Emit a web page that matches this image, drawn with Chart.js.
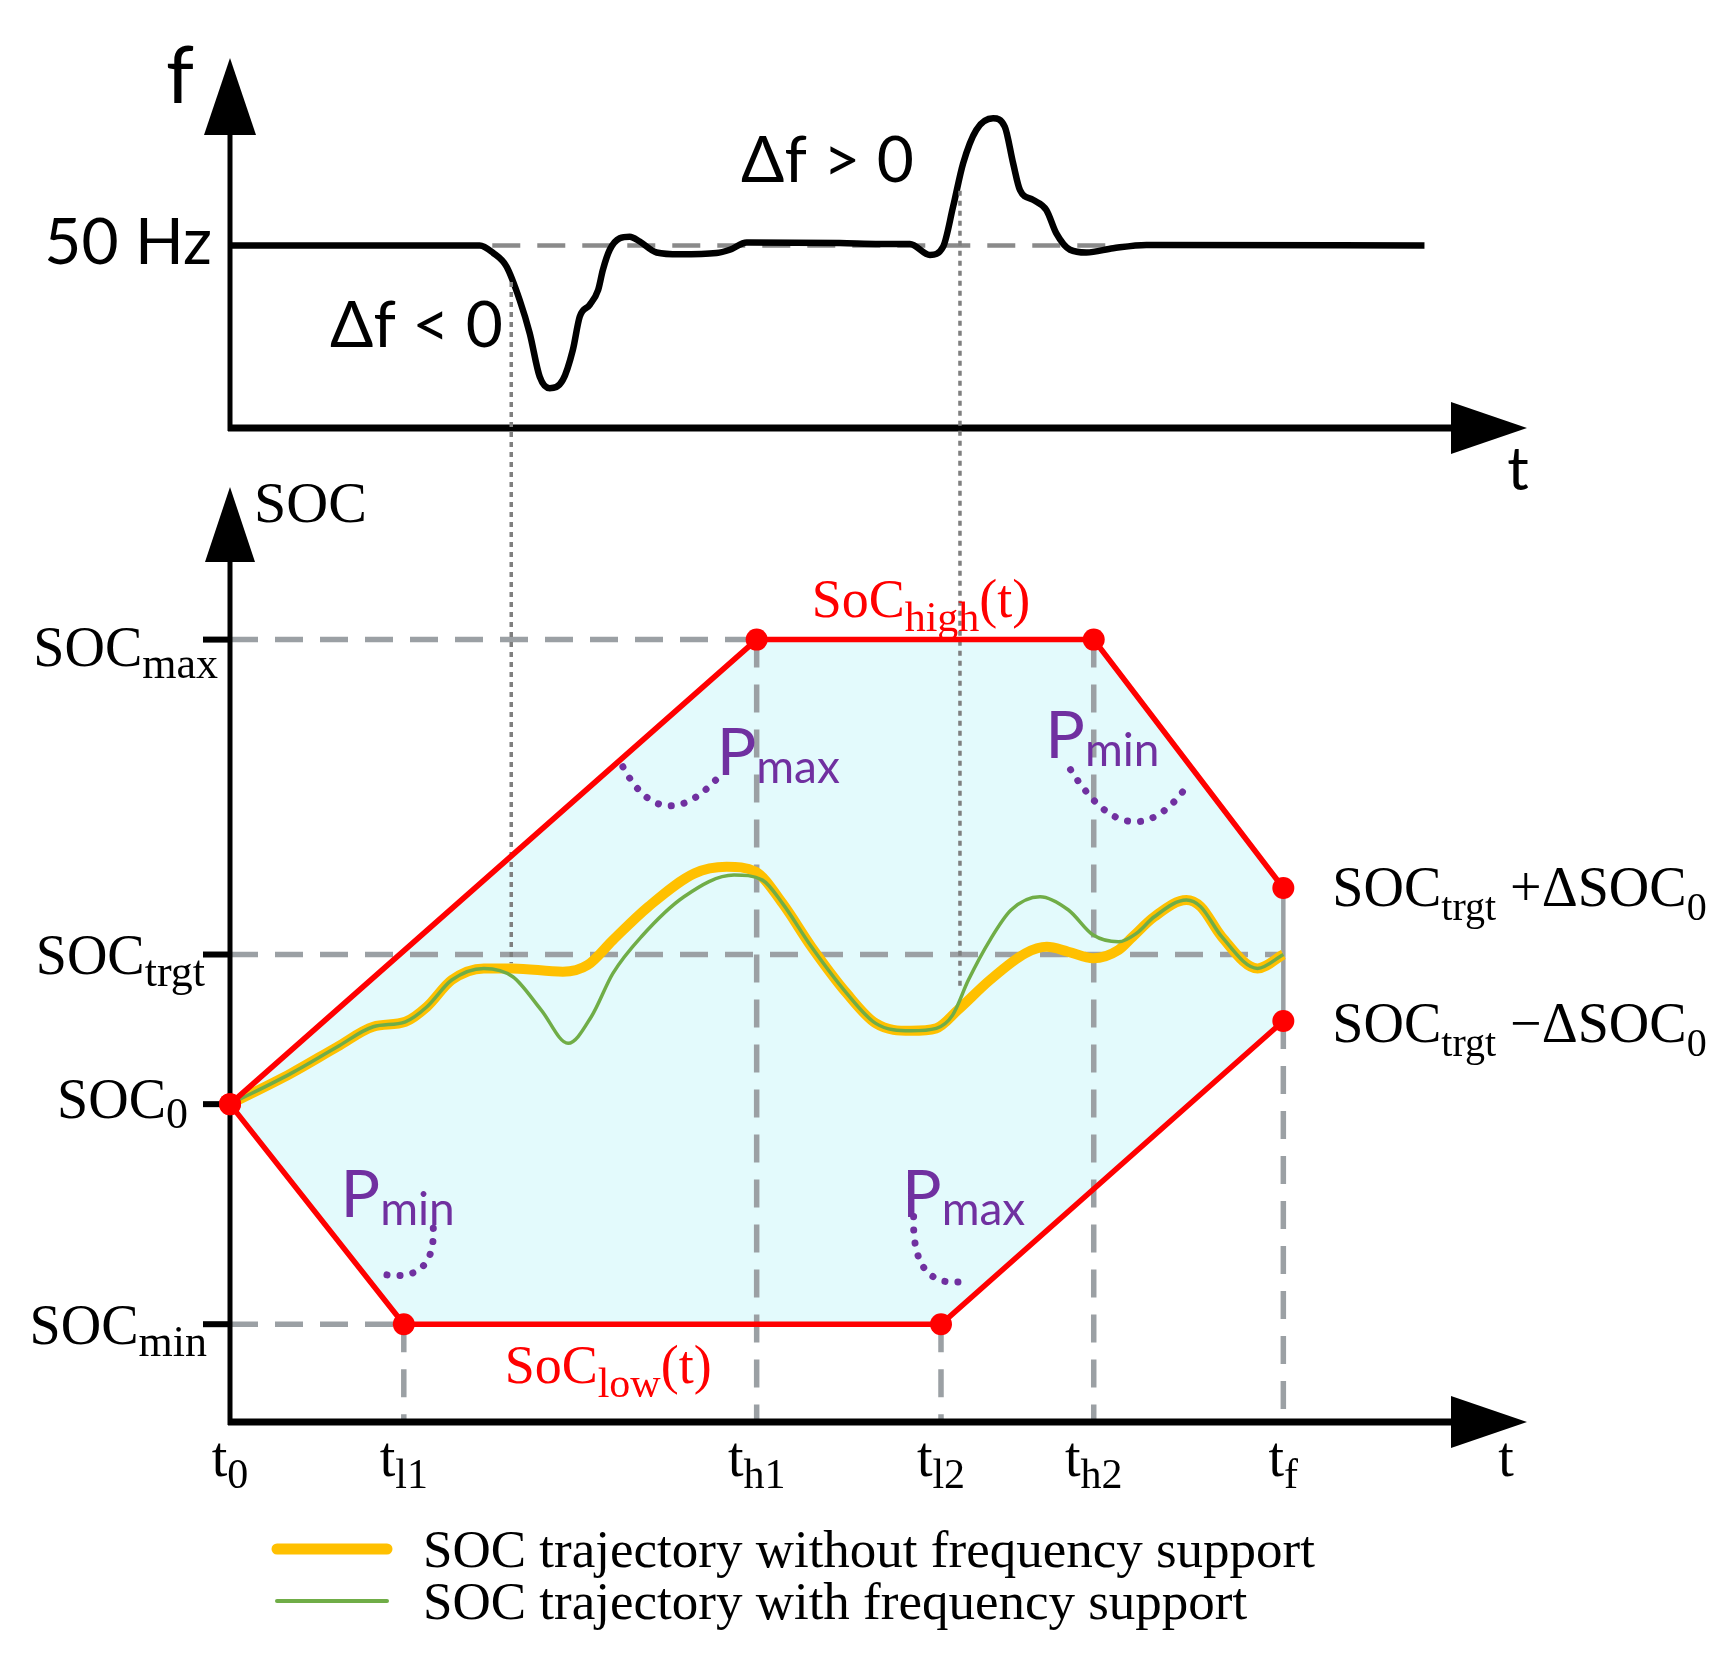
<!DOCTYPE html>
<html>
<head>
<meta charset="utf-8">
<script src="https://cdn.jsdelivr.net/npm/chart.js@4.4.1/dist/chart.umd.min.js"></script>
<style>
  html, body { margin: 0; padding: 0; background: #fff; }
  #wrap { position: relative; width: 1735px; height: 1664px; }
  #wrap canvas { position: absolute; left: 0; top: 0; }
</style>
</head>
<body>
<div id="wrap">
  <canvas id="freqChart" width="1735" height="1664"></canvas>
  <canvas id="socChart" width="1735" height="1664"></canvas>
</div>
<script>
// ---- data -----------------------------------------------------------------
// shared time axis (arbitrary units, t0 = 0, tf = 100)
const timeTicks = [0, 16.5, 50, 67.5, 82, 100];
const timeSubs  = ['0', 'l1', 'h1', 'l2', 'h2', 'f'];

// grid frequency (Hz)
const freqT  = [0, 23.7, 25.0, 26.25, 27.5, 28.45, 29.4, 30.35, 31.6, 32.55, 33.2, 34.15, 34.95, 35.4,
                36.05, 37.0, 37.95, 38.9, 40.5, 42.7, 46.2, 47.45, 49.05, 57.9, 61.7, 64.55, 66.45,
                67.7, 68.65, 69.6, 70.85, 72.45, 73.55, 74.35, 75.0, 76.25, 77.5, 78.45, 79.75, 81.3,
                83.85, 87.0, 113.4];
const freqHz = [50, 50, 49.975, 49.931, 49.821, 49.712, 49.569, 49.531, 49.558, 49.657, 49.766, 49.805,
                49.854, 49.920, 49.986, 50.024, 50.029, 50.013, 49.977, 49.971, 49.975, 49.986, 50.010,
                50.008, 50.005, 50.005, 49.969, 49.996, 50.128, 50.270, 50.380, 50.418, 50.391, 50.270,
                50.182, 50.150, 50.117, 50.040, 49.986, 49.977, 49.991, 50.002, 50.0];

// SOC levels (%)
const levelValues = [80, 47.8, 32.5, 10];
const levelSubs   = ['max', 'trgt', '0', 'min'];

// SOC envelope
const highT   = [0, 50, 82, 100];
const highSoc = [32.5, 80, 80, 54.6];
const lowT    = [0, 16.5, 67.5, 100];
const lowSoc  = [32.5, 10, 10, 41.0];

// SOC trajectory without frequency support
const noSupT   = [0, 5.8, 10.2, 13.6, 16.65, 18.7, 21.05, 24.1, 26.85, 31.6, 33.95, 36.35, 39.7, 44.1,
                  47.15, 49.9, 52.45, 55.2, 58.55, 61.3, 64.65, 67.05, 69.1, 72.15, 75.5, 77.55, 79.6,
                  81.95, 84.35, 85.7, 87.75, 90.8, 92.15, 94.15, 97.55, 100];
const noSupSoc = [32.5, 35.65, 38.37, 40.41, 40.92, 42.46, 45.19, 46.38, 46.38, 46.04, 46.72, 49.28,
                  52.68, 56.10, 56.77, 56.26, 53.03, 48.59, 43.83, 40.76, 40.00, 40.25, 42.12, 45.19,
                  47.92, 48.59, 48.08, 47.41, 48.26, 49.62, 51.66, 53.37, 52.69, 49.62, 46.38, 47.8];

// SOC trajectory with frequency support
const withSupT   = [0, 5.8, 10.2, 13.6, 16.65, 18.7, 21.05, 24.1, 26.85, 29.55, 32.1, 34.3, 36.35, 39.05,
                    43.1, 47.85, 50.55, 52.45, 55.2, 58.55, 61.3, 64.65, 67.05, 68.6, 70.1, 72.15, 74.15,
                    76.9, 79.6, 81.95, 84.35, 86.05, 87.75, 90.8, 92.15, 94.15, 97.55, 100];
const withSupSoc = [32.5, 35.65, 38.37, 40.41, 40.92, 42.46, 45.19, 46.38, 45.53, 42.12, 38.72, 41.44,
                    45.87, 49.62, 53.71, 55.93, 55.41, 53.03, 48.59, 43.83, 40.76, 40.00, 40.25, 41.6,
                    45.19, 49.28, 52.35, 53.71, 52.35, 49.79, 49.10, 49.96, 51.66, 53.37, 52.69, 49.62,
                    46.38, 47.8];

// dotted links from the frequency events down to the SOC trajectory
const linkT   = [26.7, 69.3];
const linkHz  = [49.88, 50.18];
const linkSoc = [46.9, 44.2];

// ---- helpers ----------------------------------------------------------------
const SERIF = '"Liberation Serif", "Times New Roman", serif';
const SANS = 'Lato, "Open Sans", sans-serif';
const GRAY_DASH = '#9ba0a4';
const PURPLE = '#7030a0';

function pts(xs, ys) { return xs.map((x, i) => ({ x: x, y: ys[i] })); }

function drawRich(ctx, parts, x, y, align) {
    // parts: [text, font, dy]
    let w = 0;
    parts.forEach(p => { ctx.font = p[1]; w += ctx.measureText(p[0]).width; });
    let cx = align === 'right' ? x - w : (align === 'center' ? x - w / 2 : x);
    ctx.textAlign = 'left';
    ctx.textBaseline = 'alphabetic';
    parts.forEach(p => {
        ctx.font = p[1];
        ctx.fillText(p[0], cx, y + (p[2] || 0));
        cx += ctx.measureText(p[0]).width;
    });
}

function arrow(ctx, x0, y0, x1, y1, headLen, headHalf, width) {
    const a = Math.atan2(y1 - y0, x1 - x0);
    const bx = x1 - headLen * Math.cos(a), by = y1 - headLen * Math.sin(a);
    ctx.lineWidth = width;
    ctx.beginPath(); ctx.moveTo(x0, y0); ctx.lineTo(bx, by); ctx.stroke();
    ctx.beginPath();
    ctx.moveTo(x1, y1);
    ctx.lineTo(bx - headHalf * Math.sin(a), by + headHalf * Math.cos(a));
    ctx.lineTo(bx + headHalf * Math.sin(a), by - headHalf * Math.cos(a));
    ctx.closePath(); ctx.fill();
}

function line(ctx, x0, y0, x1, y1) {
    ctx.beginPath(); ctx.moveTo(x0, y0); ctx.lineTo(x1, y1); ctx.stroke();
}

const ARROW_TIP_X = 1527;

// ---- top panel: frequency -------------------------------------------------
const freqDecor = {
    id: 'freqDecor',
    beforeDatasetsDraw(chart) {
        const { ctx, scales: { x, y } } = chart;
        ctx.save();
        ctx.strokeStyle = '#8a8a8a';
        ctx.lineWidth = 4.5;
        ctx.setLineDash([28, 17]);
        line(ctx, x.getPixelForValue(24.9), y.getPixelForValue(50), x.getPixelForValue(83.2), y.getPixelForValue(50));
        ctx.restore();
    },
    afterDraw(chart) {
        const { ctx, chartArea: a } = chart;
        ctx.save();
        ctx.fillStyle = '#000';
        ctx.strokeStyle = '#000';
        arrow(ctx, a.left, a.bottom + 3, a.left, 58, 77, 26, 5);
        arrow(ctx, a.left - 2, a.bottom, ARROW_TIP_X, a.bottom, 76, 26, 7);

        ctx.font = '80px ' + SANS;
        ctx.textAlign = 'left';
        ctx.fillText('f', 166, 103);
        drawRich(ctx, [['50 Hz', '64px ' + SANS]], a.left - 18, chart.scales.y.getPixelForValue(50) + 18, 'right');
        drawRich(ctx, [['\u0394f < 0', '64px ' + SANS]], 330, 347, 'left');
        drawRich(ctx, [['\u0394f > 0', '64px ' + SANS]], 741, 182, 'left');
        drawRich(ctx, [['t', '60px ' + SANS]], 1518, a.bottom + 62, 'center');
        ctx.restore();
    }
};

const freqChart = new Chart(document.getElementById('freqChart'), {
    type: 'line',
    data: {
        datasets: [{
            label: 'f',
            data: pts(freqT, freqHz),
            borderColor: '#000',
            borderWidth: 6.5,
            pointRadius: 0,
            cubicInterpolationMode: 'monotone',
            fill: false
        }]
    },
    options: {
        responsive: false,
        animation: false,
        devicePixelRatio: 1,
        events: [],
        layout: { padding: { left: 230, right: 241, top: 63, bottom: 1236 } },
        scales: {
            x: { type: 'linear', min: 0, max: 120, display: false },
            y: { type: 'linear', min: 49.4, max: 50.6, display: false }
        },
        plugins: { legend: { display: false }, tooltip: { enabled: false } }
    },
    plugins: [freqDecor]
});

// ---- bottom panel: SOC ----------------------------------------------------
// annotation arcs for the power limits: [label sub, textT, textSoc, arc start, control, end]
const powerNotes = [
    ['max', 46.2, 66.2, [37.3, 67.0], [41.2, 59.2], [46.9, 66.6]],
    ['min', 77.4, 67.9, [79.8, 66.7], [85.4, 57.1], [90.7, 64.8]],
    ['min', 10.5, 21.0, [19.3, 19.8], [19.5, 13.7], [13.7, 15.3]],
    ['max', 63.8, 21.0, [64.9, 21.0], [64.7, 13.5], [69.7, 14.4]]
];

const socDecor = {
    id: 'socDecor',
    beforeDatasetsDraw(chart) {
        const { ctx, chartArea: a, scales: { x, y } } = chart;
        const fy = freqChart.scales.y;
        ctx.save();

        // dashed guide lines
        ctx.strokeStyle = GRAY_DASH;
        ctx.lineWidth = 5.5;
        ctx.setLineDash([28, 17]);
        const hEnds = [highT[1], lowT[lowT.length - 1], null, lowT[1]];
        levelValues.forEach((v, i) => {
            if (hEnds[i] === null) return;
            line(ctx, a.left, y.getPixelForValue(v), x.getPixelForValue(hEnds[i]), y.getPixelForValue(v));
        });
        timeTicks.forEach(t => {
            if (t === 0) return;
            let li = lowT.indexOf(t), v;
            if (li >= 0) v = lowSoc[li]; else v = highSoc[highT.indexOf(t)];
            line(ctx, x.getPixelForValue(t), y.getPixelForValue(v), x.getPixelForValue(t), a.bottom);
        });
        ctx.setLineDash([]);
        ctx.lineWidth = 4.5;
        const xf = x.getPixelForValue(100);
        line(ctx, xf, y.getPixelForValue(highSoc[3]), xf, y.getPixelForValue(lowSoc[3]));

        // dotted links from frequency panel
        ctx.strokeStyle = '#7f7f7f';
        ctx.lineWidth = 3.5;
        ctx.setLineDash([5, 5]);
        linkT.forEach((t, i) => {
            line(ctx, x.getPixelForValue(t), fy.getPixelForValue(linkHz[i]), x.getPixelForValue(t), y.getPixelForValue(linkSoc[i]));
        });
        ctx.setLineDash([]);

        // axes and level ticks
        ctx.fillStyle = '#000';
        ctx.strokeStyle = '#000';
        arrow(ctx, a.left, a.bottom + 3, a.left, 487, 75, 25, 5);
        arrow(ctx, a.left - 2, a.bottom, ARROW_TIP_X, a.bottom, 76, 26, 7);
        ctx.lineWidth = 6;
        levelValues.forEach(v => line(ctx, a.left - 27, y.getPixelForValue(v), a.left, y.getPixelForValue(v)));
        ctx.restore();
    },
    afterDraw(chart) {
        const { ctx, chartArea: a, scales: { x, y } } = chart;
        ctx.save();

        // purple power-limit notes
        ctx.fillStyle = PURPLE;
        ctx.strokeStyle = PURPLE;
        powerNotes.forEach(n => {
            drawRich(ctx, [['P', '66px ' + SANS], [n[0], '46px ' + SANS, 8]], x.getPixelForValue(n[1]), y.getPixelForValue(n[2]), 'left');
            ctx.lineWidth = 7;
            ctx.lineCap = 'round';
            ctx.setLineDash([0.1, 13]);
            ctx.beginPath();
            ctx.moveTo(x.getPixelForValue(n[3][0]), y.getPixelForValue(n[3][1]));
            ctx.quadraticCurveTo(x.getPixelForValue(n[4][0]), y.getPixelForValue(n[4][1]),
                                 x.getPixelForValue(n[5][0]), y.getPixelForValue(n[5][1]));
            ctx.stroke();
            ctx.setLineDash([]);
        });

        // axis labels
        ctx.fillStyle = '#000';
        drawRich(ctx, [['SOC', '58px ' + SERIF]], a.left + 24, 522, 'left');
        const levelDy = [26, 19, 14, 20];
        const levelRight = [12, 25, 42, 23];
        const levelSubDy = [12, 12, 10, 12];
        levelValues.forEach((v, i) => {
            drawRich(ctx, [['SOC', '56px ' + SERIF], [levelSubs[i], '44px ' + SERIF, levelSubDy[i]]],
                     a.left - levelRight[i], y.getPixelForValue(v) + levelDy[i], 'right');
        });
        timeTicks.forEach((t, i) => {
            drawRich(ctx, [['t', '56px ' + SERIF], [timeSubs[i], '42px ' + SERIF, 12]],
                     x.getPixelForValue(t), a.bottom + 54, 'center');
        });
        drawRich(ctx, [['t', '56px ' + SERIF]], 1506, a.bottom + 54, 'center');

        const xf = x.getPixelForValue(100);
        drawRich(ctx, [['SOC', '56px ' + SERIF], ['trgt', '40px ' + SERIF, 14], [' +\u0394SOC', '56px ' + SERIF], ['0', '40px ' + SERIF, 14]],
                 xf + 49, y.getPixelForValue(highSoc[3]) + 18, 'left');
        drawRich(ctx, [['SOC', '56px ' + SERIF], ['trgt', '40px ' + SERIF, 14], [' \u2212\u0394SOC', '56px ' + SERIF], ['0', '40px ' + SERIF, 14]],
                 xf + 49, y.getPixelForValue(lowSoc[3]) + 21, 'left');

        // envelope names
        ctx.fillStyle = '#ff0000';
        drawRich(ctx, [['SoC', '54px ' + SERIF], ['high', '42px ' + SERIF, 14], ['(t)', '54px ' + SERIF]],
                 x.getPixelForValue(65.6), y.getPixelForValue(80) - 23, 'center');
        drawRich(ctx, [['SoC', '54px ' + SERIF], ['low', '42px ' + SERIF, 14], ['(t)', '54px ' + SERIF]],
                 x.getPixelForValue(35.9), y.getPixelForValue(10) + 59, 'center');

        // legend
        const legendItems = [chart.data.datasets[2], chart.data.datasets[3]];
        const legendY = [1549, 1601];
        legendItems.forEach((ds, i) => {
            ctx.strokeStyle = ds.borderColor;
            ctx.lineWidth = i === 0 ? 11 : 4;
            line(ctx, 277, legendY[i], 387, legendY[i]);
            ctx.fillStyle = '#000';
            drawRich(ctx, [[ds.label, '53px ' + SERIF]], 423, legendY[i] + 18, 'left');
        });
        ctx.restore();
    }
};

new Chart(document.getElementById('socChart'), {
    type: 'line',
    data: {
        datasets: [
            {
                label: 'SoC high',
                data: pts(highT, highSoc),
                borderColor: '#ff0000',
                borderWidth: 5.5,
                tension: 0,
                pointRadius: 11,
                pointBackgroundColor: '#ff0000',
                pointBorderWidth: 0,
                fill: false,
                clip: false,
                order: 1
            },
            {
                label: 'SoC low',
                data: pts(lowT, lowSoc),
                borderColor: '#ff0000',
                backgroundColor: 'rgb(227, 250, 252)',
                borderWidth: 5.5,
                tension: 0,
                pointRadius: 11,
                pointBackgroundColor: '#ff0000',
                pointBorderWidth: 0,
                fill: '-1',
                clip: false,
                order: 1
            },
            {
                label: 'SOC trajectory without frequency support',
                data: pts(noSupT, noSupSoc),
                borderColor: '#ffc000',
                borderWidth: 10,
                pointRadius: 0,
                cubicInterpolationMode: 'monotone',
                fill: false,
                order: 3
            },
            {
                label: 'SOC trajectory with frequency support',
                data: pts(withSupT, withSupSoc),
                borderColor: '#70ad47',
                borderWidth: 3.5,
                pointRadius: 0,
                cubicInterpolationMode: 'monotone',
                fill: false,
                order: 2
            }
        ]
    },
    options: {
        responsive: false,
        animation: false,
        devicePixelRatio: 1,
        events: [],
        layout: { padding: { left: 230, right: 241, top: 444, bottom: 242 } },
        scales: {
            x: { type: 'linear', min: 0, max: 120, display: false },
            y: { type: 'linear', min: 0, max: 100, display: false }
        },
        plugins: {
            legend: { display: false },
            tooltip: { enabled: false },
            filler: { drawTime: 'beforeDatasetsDraw' }
        }
    },
    plugins: [socDecor]
});
</script>
</body>
</html>
